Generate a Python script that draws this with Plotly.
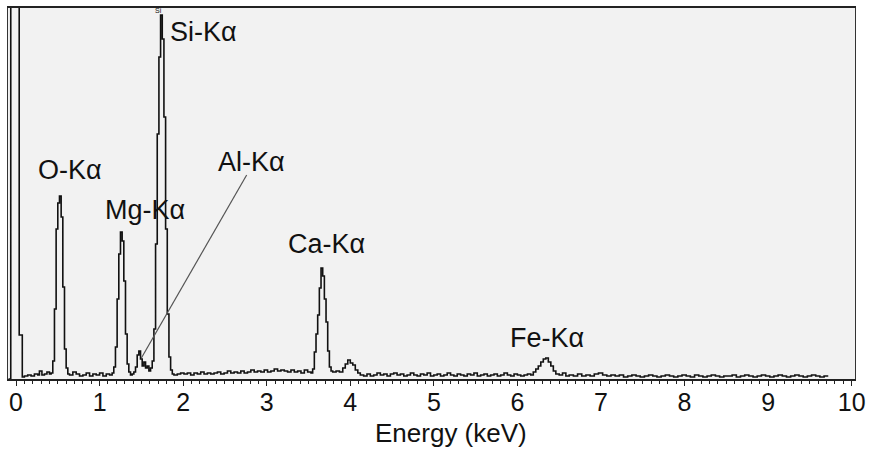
import plotly.graph_objects as go

# ---- spectrum data (bin start energy in keV, counts) ----
zero_E = [-0.09, -0.063, 0.038, 0.075, 0.10, 0.14, 0.18, 0.22, 0.26, 0.28, 0.31, 0.34, 0.37, 0.40, 0.42]
zero_C = [0, 1000, 44, 2, 3, 4, 3, 5, 4, 8, 4, 5, 7, 5, 6]

o_E = [0.44, 0.46, 0.48, 0.50, 0.52, 0.54, 0.56, 0.58, 0.60, 0.62]
o_C = [18, 70, 150, 176, 183, 162, 92, 30, 11, 5]

bg1_E = [0.64, 0.68, 0.72, 0.76, 0.80, 0.84, 0.88, 0.92, 0.96, 1.00, 1.04, 1.08, 1.12]
bg1_C = [4, 7, 5, 3, 4, 6, 3, 5, 4, 6, 3, 5, 4]

mg_E = [1.15, 1.17, 1.19, 1.21, 1.23, 1.25, 1.27, 1.29, 1.31, 1.33, 1.35, 1.37, 1.39]
mg_C = [6, 12, 32, 80, 125, 147, 138, 98, 45, 15, 7, 4, 5]

al_E = [1.41, 1.43, 1.45, 1.47, 1.49, 1.51, 1.53, 1.55, 1.57, 1.59, 1.61]
al_C = [7, 12, 24, 28, 20, 13, 17, 11, 13, 8, 11]

si_E = [1.63, 1.65, 1.67, 1.69, 1.71, 1.73, 1.75, 1.77, 1.79, 1.81, 1.83, 1.85, 1.87]
si_C = [18, 50, 135, 245, 322, 364, 340, 262, 150, 65, 22, 9, 5]

bg2_E = [1.89, 1.93, 1.97, 2.01, 2.05, 2.09, 2.13, 2.17, 2.21, 2.25, 2.29, 2.33, 2.37, 2.41,
         2.45, 2.49, 2.53, 2.57, 2.61, 2.65, 2.69, 2.73, 2.77, 2.81, 2.85, 2.89, 2.93, 2.97,
         3.01, 3.05, 3.09, 3.13, 3.17, 3.21, 3.25, 3.29, 3.33, 3.37, 3.41, 3.45, 3.49]
bg2_C = [4, 5, 6, 5, 6, 4, 6, 5, 7, 5, 6, 5, 6, 7,
         5, 6, 8, 6, 7, 6, 8, 6, 7, 9, 7, 8, 7, 9,
         7, 8, 10, 8, 9, 8, 7, 9, 7, 8, 6, 9, 7]

ca_E = [3.53, 3.55, 3.57, 3.59, 3.61, 3.63, 3.65, 3.67, 3.69, 3.71, 3.73, 3.75, 3.77]
ca_C = [6, 10, 27, 45, 64, 91, 111, 103, 80, 57, 28, 12, 8]

cab_E = [3.79, 3.83, 3.87, 3.91, 3.94, 3.97, 4.00, 4.03, 4.06, 4.09, 4.12, 4.16]
cab_C = [7, 8, 7, 11, 15, 19, 16, 14, 9, 6, 4, 3]

bg3_E = [4.20, 4.24, 4.28, 4.32, 4.36, 4.40, 4.44, 4.48, 4.52, 4.56, 4.60, 4.64, 4.68, 4.72,
         4.76, 4.80, 4.84, 4.88, 4.92, 4.96, 5.00, 5.04, 5.08, 5.12, 5.16, 5.20, 5.24, 5.28,
         5.32, 5.36, 5.40, 5.44, 5.48, 5.52, 5.56, 5.60, 5.64, 5.68, 5.72, 5.76, 5.80, 5.84,
         5.88, 5.92, 5.96, 6.00, 6.04, 6.08, 6.12, 6.16]
bg3_C = [5, 3, 4, 6, 4, 5, 3, 5, 6, 4, 5, 3, 4, 6,
         4, 3, 5, 4, 6, 3, 4, 5, 3, 4, 6, 4, 3, 5,
         4, 3, 5, 4, 6, 3, 4, 5, 3, 4, 5, 3, 4, 6,
         4, 3, 5, 4, 3, 4, 5, 4]

fe_E = [6.19, 6.22, 6.25, 6.28, 6.31, 6.34, 6.37, 6.40, 6.43, 6.46, 6.50, 6.54, 6.58]
fe_C = [7, 10, 13, 17, 20, 21, 17, 13, 8, 5, 4, 6, 3]

bg4_E = [6.62, 6.67, 6.72, 6.77, 6.82, 6.87, 6.92, 6.97, 7.02, 7.07, 7.12, 7.17, 7.22, 7.27,
         7.32, 7.37, 7.42, 7.47, 7.52, 7.57, 7.62, 7.67, 7.72, 7.77, 7.82, 7.87, 7.92, 7.97,
         8.02, 8.07, 8.12, 8.17, 8.22, 8.27, 8.32, 8.37, 8.42, 8.47, 8.52, 8.57, 8.62, 8.67,
         8.72, 8.77, 8.82, 8.87, 8.92, 8.97, 9.02, 9.07, 9.12, 9.17, 9.22, 9.27, 9.32, 9.37,
         9.42, 9.47, 9.52, 9.57, 9.62, 9.67, 9.72]
bg4_C = [4, 3, 5, 3, 4, 3, 5, 6, 4, 3, 4, 3, 4, 2,
         3, 4, 3, 2, 3, 4, 3, 2, 3, 4, 3, 2, 3, 4,
         3, 2, 4, 3, 2, 3, 4, 3, 2, 3, 3, 4, 2, 3,
         4, 3, 2, 3, 4, 3, 2, 3, 4, 3, 2, 3, 4, 3,
         2, 3, 4, 3, 2, 3, 3]

energy = zero_E + o_E + bg1_E + mg_E + al_E + si_E + bg2_E + ca_E + cab_E + bg3_E + fe_E + bg4_E
counts = zero_C + o_C + bg1_C + mg_C + al_C + si_C + bg2_C + ca_C + cab_C + bg3_C + fe_C + bg4_C

# ---- peak labels ----
label_text = ["Si-Kα", "O-Kα", "Mg-Kα", "Al-Kα", "Ca-Kα", "Fe-Kα"]
label_x = [2.24, 0.646, 1.54, 2.82, 3.71, 6.35]
label_y = [347, 209, 169, 217, 135, 41]

x_title = "Energy (keV)"

FONT = "Liberation Sans, Arial, sans-serif"

fig = go.Figure()
fig.add_trace(go.Scatter(x=energy, y=counts, mode="lines", line_shape="hv",
                         line=dict(color="#111111", width=1.6), hoverinfo="skip"))

for t, x, y in zip(label_text, label_x, label_y):
    fig.add_annotation(x=x, y=y, text=t, showarrow=False, xref="x", yref="y",
                       font=dict(family=FONT, size=27, color="#111111"))

# tiny software label at the Si peak top
fig.add_annotation(x=1.70, y=369, text="Si", showarrow=False,
                   font=dict(family=FONT, size=7, color="#111111"))

# axis title (placed slightly right of centre, as in the reference)
fig.add_annotation(x=0.523, y=-0.146, xref="paper", yref="paper", text=x_title,
                   showarrow=False, xanchor="center", yanchor="middle",
                   font=dict(family=FONT, size=26, color="#111111"))

# Al pointer line
fig.add_shape(type="line", x0=2.76, y0=204, x1=1.50, y1=21, xref="x", yref="y",
              line=dict(color="#555555", width=1.2))

fig.update_layout(
    width=871, height=449,
    margin=dict(l=8, r=16, t=8, b=70, autoexpand=False),
    paper_bgcolor="white", plot_bgcolor="#f2f2f2",
    showlegend=False,
    font=dict(family=FONT, color="#111111"),
)
fig.update_xaxes(
    range=[-0.096, 10.04], tickmode="linear", tick0=0, dtick=1,
    ticks="outside", ticklen=5, tickwidth=1.3, tickcolor="#222222",
    ticklabelstandoff=-5,
    showline=True, linecolor="#222222", linewidth=1.5, mirror=True,
    showgrid=False, zeroline=False, automargin=False,
    minor=dict(dtick=0.1, tick0=0, ticks="outside", ticklen=3, tickcolor="#222222", tickwidth=1),
    tickfont=dict(family=FONT, size=25, color="#111111"),
)
fig.update_yaxes(
    range=[0, 371], showticklabels=False, ticks="",
    showline=True, linecolor="#333333", linewidth=1.3, mirror=True,
    showgrid=False, zeroline=False, automargin=False,
)

fig.write_html("out.html", config={"displayModeBar": False},
               post_script="document.body.style.margin='0px';")
